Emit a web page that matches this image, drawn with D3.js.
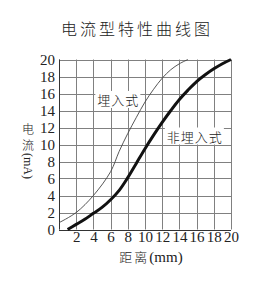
<!DOCTYPE html>
<html><head><meta charset="utf-8">
<script src="https://cdn.jsdelivr.net/npm/d3@7"></script>
<style>
body{margin:0;background:#fff;}
svg{display:block;}
</style></head>
<body>
<script>
const title = "电流型特性曲线图";
const xTitle = "距离(mm)";
const yTitle = "电流(mA)";
const xTicks = [2,4,6,8,10,12,14,16,18,20];
const yTicks = [0,2,4,6,8,10,12,14,16,18,20];
const buriedName = "埋入式";
const buriedX = [0,2,4,6,7,8,9,10,11,12,13,14,15];
const buriedY = [0.8,2,4,6.8,9.2,11.3,13.2,15,16.5,17.8,18.8,19.5,20];
const nonBuriedName = "非埋入式";
const nonBuriedX = [1,2,3,4,5,6,7,8,9,10,11,12,13,14,15,16,17,18,19,20];
const nonBuriedY = [0,0.6,1.2,1.9,2.6,3.5,4.6,6.1,7.8,9.5,11.1,12.6,14,15.3,16.4,17.4,18.2,18.9,19.5,20];

const SERIF='"Liberation Serif"';
const CJK='"Noto Sans CJK SC"';
const W=262,H=283;
const m={l:59,r:31,t:59.5,b:53.5};
const svg=d3.select("body").append("svg").attr("width",W).attr("height",H);
const x=d3.scaleLinear().domain([0,20]).range([m.l,W-m.r]);
const y=d3.scaleLinear().domain([0,20]).range([H-m.b,m.t]);

svg.append("text").attr("x",137).attr("y",35).attr("text-anchor","middle")
  .style("font-family",CJK).style("font-size","16px").style("font-weight",300).attr("letter-spacing",3)
  .attr("fill","#222").text(title);

const g=svg.append("g");
const gridX=d3.range(0,21,2);
g.selectAll(".vg").data(gridX).join("line")
  .attr("x1",d=>Math.round(x(d))+0.5).attr("x2",d=>Math.round(x(d))+0.5)
  .attr("y1",y(20)).attr("y2",y(0)).attr("stroke","#808080").attr("stroke-width",1);
g.selectAll(".hg").data(yTicks).join("line")
  .attr("y1",d=>Math.round(y(d))+0.5).attr("y2",d=>Math.round(y(d))+0.5)
  .attr("x1",x(0)).attr("x2",x(20)).attr("stroke","#808080").attr("stroke-width",1);
g.append("line").attr("x1",Math.round(x(0))+0.5).attr("x2",Math.round(x(0))+0.5).attr("y1",y(20)).attr("y2",y(0)).attr("stroke","#333");
g.append("line").attr("y1",Math.round(y(0))+0.5).attr("y2",Math.round(y(0))+0.5).attr("x1",x(0)).attr("x2",x(20)).attr("stroke","#333");

const yAxis=d3.axisLeft(y).tickValues(yTicks).tickSize(0).tickPadding(4);
const ya=svg.append("g").attr("transform",`translate(${x(0)},0)`).call(yAxis);
ya.select(".domain").remove();
ya.selectAll("text").style("font-family",SERIF).style("font-size","15px").attr("fill","#222");

const xAxis=d3.axisBottom(x).tickValues(xTicks).tickSize(0).tickPadding(2);
const xa=svg.append("g").attr("transform",`translate(0,${y(0)})`).call(xAxis);
xa.select(".domain").remove();
xa.selectAll("text").style("font-family",SERIF).style("font-size","15px").attr("fill","#222");

const line=d3.line().x(d=>x(d[0])).y(d=>y(d[1])).curve(d3.curveCatmullRom.alpha(0.5));
svg.append("path").datum(d3.zip(buriedX,buriedY)).attr("d",line)
  .attr("fill","none").attr("stroke","#444").attr("stroke-width",0.9);
svg.append("path").datum(d3.zip(nonBuriedX,nonBuriedY)).attr("d",line)
  .attr("fill","none").attr("stroke","#111").attr("stroke-width",3);

function label(txt,cx,cy){
  const t=svg.append("text").attr("x",cx).attr("y",cy).attr("text-anchor","middle")
    .attr("dominant-baseline","central").style("font-family",CJK).style("font-weight",300)
    .style("font-size","13px").attr("letter-spacing",1).attr("fill","#222").text(txt);
  const bb=t.node().getBBox();
  svg.insert("rect",function(){return t.node();}).attr("x",bb.x-2).attr("y",bb.y+1).attr("width",bb.width+3).attr("height",bb.height-2).attr("fill","#fff");
}
label(buriedName,x(6.9),y(15.3));
label(nonBuriedName,x(15.8),y(11));

svg.append("text").attr("x",151).attr("y",262).attr("text-anchor","middle").attr("fill","#222")
  .call(t=>{
    t.append("tspan").style("font-family",CJK).style("font-weight",300).style("font-size","13px").attr("letter-spacing",2).text(xTitle.slice(0,2));
    t.append("tspan").style("font-family",SERIF).style("font-size","15px").text(xTitle.slice(2));
  });

const yt=svg.append("g").attr("fill","#222");
yt.append("text").attr("x",28).attr("y",134).attr("text-anchor","middle").style("font-family",CJK).style("font-weight",300).style("font-size","12px").text(yTitle[0]);
yt.append("text").attr("x",28).attr("y",150).attr("text-anchor","middle").style("font-family",CJK).style("font-weight",300).style("font-size","12px").text(yTitle[1]);
yt.append("text").attr("transform","translate(24,166) rotate(90)").attr("text-anchor","middle").style("font-family",SERIF).style("font-size","12px").text(yTitle.slice(2));
</script>
</body></html>
